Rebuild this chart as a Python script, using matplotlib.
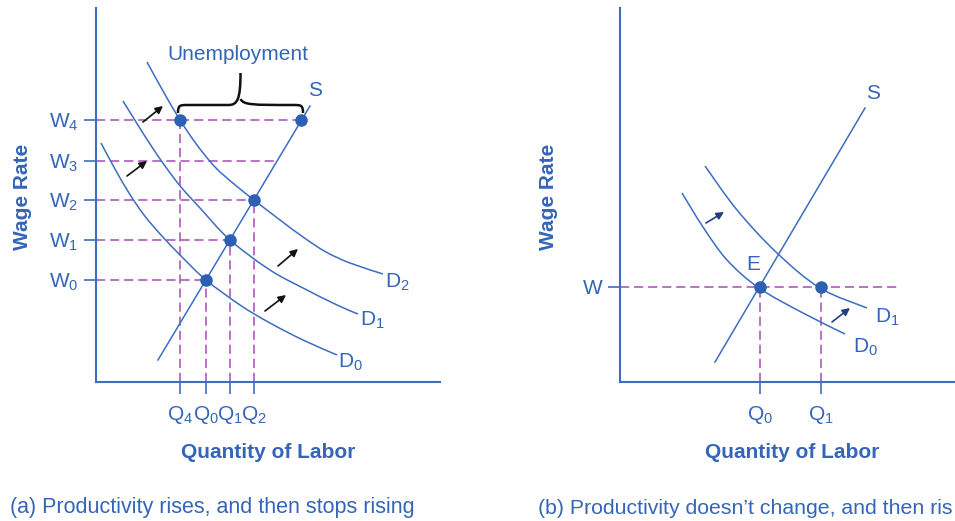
import numpy as np
import matplotlib.pyplot as plt
from matplotlib.path import Path
from matplotlib.patches import PathPatch

plt.rcParams['font.family'] = ['Liberation Sans', 'DejaVu Sans']
plt.rcParams['mathtext.fontset'] = 'custom'
plt.rcParams['mathtext.rm'] = 'Liberation Sans'
plt.rcParams['mathtext.it'] = 'Liberation Sans'

BLUE = '#3d6dbf'
TEXT = '#3465b8'
DOT = '#2d5fb3'
DASH = '#a54cb4'

# ---- panel (a): values (arbitrary units) ----
a_wage_labels = ['W$_0$', 'W$_1$', 'W$_2$', 'W$_3$', 'W$_4$']
a_wages = [102, 142, 182, 221, 262]
a_qty_labels = ['Q$_4$', 'Q$_0$', 'Q$_1$', 'Q$_2$']
a_qtys = [84, 110, 134, 158]
a_eq_q = [110, 134, 158, 84]          # Q0, Q1, Q2, Q4
a_eq_w = [102, 142, 182, 262]         # W0, W1, W2, W4
a_unemp_right = 205                   # supply point at W4
a_w3_end = 181                        # W3 dashed line reaches supply curve
a_supply_x = [62, 214]
a_supply_y = [22, 276]
a_d0_x = [5, 19, 33, 48, 65, 86, 110, 144, 174, 207, 241]
a_d0_y = [239, 213, 189, 167, 147, 125, 102, 77, 59, 42, 27]
a_d1_x = [27, 40, 54, 69, 85, 104, 134, 174, 207, 241, 262]
a_d1_y = [281, 260, 238, 216, 195, 174, 142, 112, 94, 77, 68]
a_d2_x = [51, 67, 84, 101, 119, 138, 158, 184, 207, 230, 254, 287]
a_d2_y = [320, 291, 262, 237, 215, 198, 182, 162, 145, 130, 119, 108]
a_arrows = [((47, 260), (67, 276)), ((31, 206), (51, 221)),
            ((182, 116), (202, 133)), ((169, 71), (190, 87))]

# ---- panel (b) ----
b_wage = 95
b_qty_labels = ['Q$_0$', 'Q$_1$']
b_qtys = [140, 201]
b_dash_end = 277
b_supply_x = [95, 245]
b_supply_y = [20, 274]
b_d0_x = [62, 83, 107, 139, 183, 225]
b_d0_y = [189, 155, 122, 94, 69, 48]
b_d1_x = [85, 117, 157, 200, 247]
b_d1_y = [216, 172, 129, 94, 74]
b_arrows = [((86, 159), (104, 170)), ((212, 60), (230, 74))]

W, H = 955, 521
fig = plt.figure(figsize=(W / 100, H / 100), dpi=100)


def make_axes(x0, x1, ytop, ybot):
    ax = fig.add_axes([x0 / W, (H - ybot) / H, (x1 - x0) / W, (ybot - ytop) / H])
    ax.set_xlim(0, x1 - x0)
    ax.set_ylim(0, ybot - ytop)
    for s in ['top', 'right']:
        ax.spines[s].set_visible(False)
    for s in ['left', 'bottom']:
        ax.spines[s].set_color(BLUE)
        ax.spines[s].set_linewidth(1.5)
    ax.patch.set_alpha(0)
    ax.tick_params(axis='both', colors=BLUE, labelcolor=TEXT, labelsize=15,
                   length=8.5, width=1.2)
    ax.tick_params(axis='y', pad=4)
    ax.tick_params(axis='x', pad=7)
    return ax


def smooth_curve(ax, xs, ys):
    # draw a smooth line through the read points (Catmull-Rom as Bezier)
    p = np.column_stack([xs, ys]).astype(float)
    ext = np.vstack([p[0], p, p[-1]])
    verts = [p[0]]
    codes = [Path.MOVETO]
    for i in range(1, len(ext) - 2):
        c1 = ext[i] + (ext[i + 1] - ext[i - 1]) / 6
        c2 = ext[i + 1] - (ext[i + 2] - ext[i]) / 6
        verts += [c1, c2, ext[i + 1]]
        codes += [Path.CURVE4] * 3
    ax.add_patch(PathPatch(Path(verts, codes), fc='none', ec=BLUE, lw=1.1,
                           zorder=2))


def arrow(ax, start, end, color):
    ax.annotate('', xy=end, xytext=start,
                arrowprops=dict(arrowstyle='-|>', color=color, lw=1.2,
                                mutation_scale=11, shrinkA=0, shrinkB=0))


dash_kw = dict(color=DASH, lw=1.1, dashes=(6, 3.2), zorder=1)
curve_kw = dict(color=BLUE, lw=1.1, zorder=2)

# ---------------- panel (a) ----------------
ax = make_axes(96, 440, 8, 382)
ax.set_yticks(a_wages, a_wage_labels)
ax.set_xticks(a_qtys, a_qty_labels)

for q, w in zip(a_eq_q, a_eq_w):
    ax.plot([0, q], [w, w], **dash_kw)
    ax.plot([q, q], [0, w], **dash_kw)
ax.plot([a_eq_q[-1], a_unemp_right], [a_wages[4], a_wages[4]], **dash_kw)
ax.plot([0, a_w3_end], [a_wages[3], a_wages[3]], **dash_kw)

ax.plot(a_supply_x, a_supply_y, **curve_kw)
smooth_curve(ax, a_d0_x, a_d0_y)
smooth_curve(ax, a_d1_x, a_d1_y)
smooth_curve(ax, a_d2_x, a_d2_y)

ax.plot(a_eq_q + [a_unemp_right], a_eq_w + [a_wages[4]], 'o', color=DOT,
        ms=8, zorder=4)

for s, e in a_arrows:
    arrow(ax, s, e, '#111111')

# brace above the unemployment gap
bx0, bx1 = a_eq_q[-1] - 2, a_unemp_right + 2
by = a_wages[4] + 7
mid = (bx0 + bx1) / 2
verts = [(bx0, by), (bx0, by + 8), (bx0 + 2, by + 8), (bx0 + 10, by + 8),
         (mid - 12, by + 8), (mid - 3, by + 8), (mid, by + 14),
         (mid, by + 40), (mid, by + 14),
         (mid + 3, by + 8), (mid + 12, by + 8), (bx1 - 10, by + 8),
         (bx1 - 2, by + 8), (bx1, by + 8), (bx1, by)]
codes = [Path.MOVETO, Path.CURVE4, Path.CURVE4, Path.CURVE4,
         Path.LINETO, Path.CURVE4, Path.CURVE4,
         Path.LINETO, Path.MOVETO,
         Path.CURVE4, Path.CURVE4, Path.LINETO,
         Path.CURVE4, Path.CURVE4, Path.CURVE4]
ax.add_patch(PathPatch(Path(verts, codes), fc='none', ec='#111111', lw=1.8,
                       zorder=3))

ax.text(142, 328, 'Unemployment', color=TEXT, fontsize=15, ha='center',
        va='center')
ax.text(219, 292, 'S', color=TEXT, fontsize=15, ha='center', va='center')
ax.text(254, 20, 'D$_0$', color=TEXT, fontsize=15, ha='center', va='center')
ax.text(276, 62, 'D$_1$', color=TEXT, fontsize=15, ha='center', va='center')
ax.text(301, 100, 'D$_2$', color=TEXT, fontsize=15, ha='center', va='center')

# ---------------- panel (b) ----------------
bx = make_axes(620, 955, 8, 382)
bx.spines['bottom'].set_bounds(0, 340)
bx.set_yticks([b_wage], ['W'])
bx.set_xticks(b_qtys, b_qty_labels)

bx.plot([0, b_dash_end], [b_wage, b_wage], **dash_kw)
for q in b_qtys:
    bx.plot([q, q], [0, b_wage], **dash_kw)

bx.plot(b_supply_x, b_supply_y, **curve_kw)
smooth_curve(bx, b_d0_x, b_d0_y)
smooth_curve(bx, b_d1_x, b_d1_y)
bx.plot(b_qtys, [b_wage, b_wage], 'o', color=DOT, ms=8, zorder=4)

for s, e in b_arrows:
    arrow(bx, s, e, '#1f3f80')

bx.text(133, 117, 'E', color=TEXT, fontsize=15, ha='center', va='center')
bx.text(253, 289, 'S', color=TEXT, fontsize=15, ha='center', va='center')
bx.text(245, 35, 'D$_0$', color=TEXT, fontsize=15, ha='center', va='center')
bx.text(267, 65, 'D$_1$', color=TEXT, fontsize=15, ha='center', va='center')

# ---------------- figure texts ----------------
for xc in [22, 548]:
    fig.text(xc / W, 1 - 197 / H, 'Wage Rate', rotation=90, color=TEXT,
             fontsize=15, fontweight='bold', ha='center', va='center')
for xc in [268, 792]:
    fig.text(xc / W, 1 - 452 / H, 'Quantity of Labor', color=TEXT,
             fontsize=15, fontweight='bold', ha='center', va='center')
fig.text(10 / W, 1 - 508 / H, '(a) Productivity rises, and then stops rising',
         color=TEXT, fontsize=15.5, ha='left', va='center')
fig.text(538 / W, 1 - 508 / H, '(b) Productivity doesn\u2019t change, and then ris',
         color=TEXT, fontsize=15.3, ha='left', va='center')

fig.savefig('out.png', dpi=100)
